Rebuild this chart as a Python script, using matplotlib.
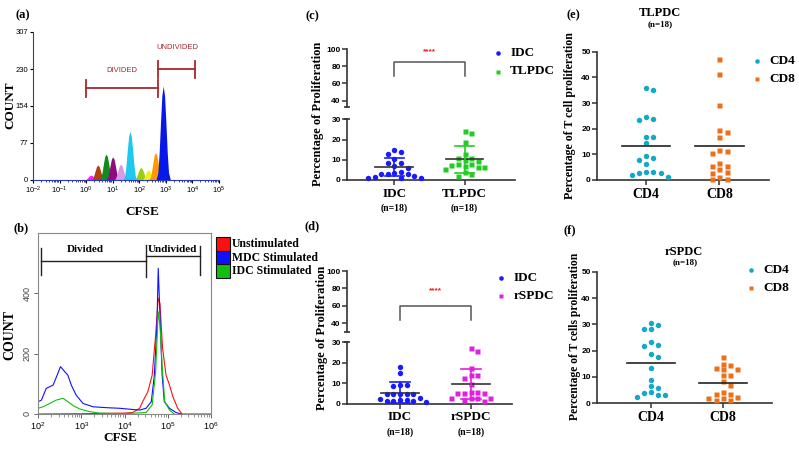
import numpy as np
import matplotlib
matplotlib.use('Agg')
import matplotlib.pyplot as plt
from matplotlib.patches import Rectangle

SERIF = 'Liberation Serif'
SANS = 'Liberation Sans'
plt.rcParams['font.family'] = SANS
plt.rcParams['mathtext.fontset'] = 'custom'
plt.rcParams['mathtext.rm'] = SANS
plt.rcParams['mathtext.it'] = SANS
plt.rcParams['mathtext.bf'] = SANS + ':bold'

# ---- (a) CFSE generations (log10 centre, peak count) ----
a_centers = [0.18, 0.44, 0.75, 1.0, 1.3, 1.65, 2.06, 2.34, 2.61, 2.9]
a_heights = [10, 31, 54, 48, 33, 101, 26, 21, 57, 195]
a_colors = ['#ff20ff', '#b0400c', '#108c1c', '#900a80', '#d89ae8',
            '#20c8f0', '#98d010', '#f0f020', '#ff9800', '#0818e8']
a_prof_off = np.array([-0.27, -0.2, -0.15, -0.1, -0.05, 0, 0.05, 0.1, 0.15, 0.2, 0.27])
a_prof_frac = np.array([0, 0.08, 0.3, 0.62, 0.9, 1, 0.9, 0.62, 0.3, 0.08, 0])
a_div_gate = [1.0, 10**2.69]
a_undiv_gate = [10**2.69, 10**4.11]

# ---- (b) histograms (log10 CFSE, count) ----
b_red_logx = [2.0, 3.0, 4.0, 4.19, 4.35, 4.42, 4.54, 4.64, 4.72, 4.78, 4.82, 4.88,
              4.96, 5.04, 5.12, 5.23, 5.33, 6.0]
b_red_cnt = [0, 1, 3, 5, 19, 41, 74, 129, 262, 383, 367, 218, 129, 96, 57, 19, 0, 0]
b_blue_logx = [2.0, 2.003, 2.08, 2.19, 2.35, 2.46, 2.52, 2.62, 2.69, 2.77, 2.88, 3.04,
               3.27, 3.58, 3.88, 4.19, 4.35, 4.5, 4.62, 4.69, 4.75, 4.78, 4.82, 4.87,
               4.92, 5.04, 5.19, 5.31]
b_blue_cnt = [295, 41, 46, 85, 96, 135, 157, 140, 129, 96, 63, 35, 24, 21, 19, 15, 13,
              19, 41, 129, 295, 483, 328, 129, 41, 19, 5, 0]
b_green_logx = [2.0, 2.003, 2.12, 2.27, 2.42, 2.58, 2.69, 2.81, 2.96, 3.19, 3.42, 4.0,
                4.5, 4.64, 4.72, 4.78, 4.82, 4.87, 4.93, 5.04, 5.15]
b_green_cnt = [173, 19, 24, 35, 46, 52, 41, 28, 17, 8, 3, 1, 5, 30, 140, 339, 295, 162,
               41, 13, 0]
b_labels = ['Unstimulated', 'MDC Stimulated', 'IDC Stimulated']
b_colors = ['#ff1010', '#1010ff', '#10c010']

# ---- (c)-(f) dot plots ----
c_cats = ['IDC', 'TLPDC']
c_idc = [15.0, 13.8, 13.0, 10.3, 8.5, 8.2, 6.8, 5.8, 4.2, 3.0, 3.0, 3.2, 3.3, 1.8, 1.2, 1.2, 1.2, 1.5]
c_tlpdc = [24.1, 23.0, 19.0, 12.8, 10.8, 10.8, 9.8, 9.5, 8.0, 6.6, 7.4, 6.6, 7.0, 7.9, 4.1, 2.1, 3.0, 5.5]
c_mean = [6.4, 10.2]
c_sd = [4.5, 6.6]

d_cats = ['IDC', 'rSPDC']
d_idc = [18.0, 15.0, 8.8, 9.2, 9.2, 4.8, 4.8, 4.8, 4.8, 4.8, 1.5, 2.0, 2.2, 1.3, 1.8, 0.8, 1.3, 3.0]
d_rspdc = [27.3, 25.8, 17.5, 14.0, 14.0, 12.7, 9.5, 5.3, 5.3, 5.3, 5.6, 5.6, 2.8, 2.8, 2.8, 2.8, 1.5, 1.8]
d_mean = [5.4, 9.6]
d_sd = [5.0, 7.5]

e_cats = ['CD4', 'CD8']
e_cd4 = [35.0, 36.0, 23.6, 23.2, 24.4, 16.6, 16.8, 14.4, 9.5, 8.6, 7.7, 6.1, 2.1, 3.2, 2.6, 2.9, 3.2, 1.3]
e_cd8 = [47.0, 41.3, 29.1, 19.5, 18.8, 16.6, 11.3, 10.4, 11.8, 6.5, 5.6, 5.6, 4.2, 3.1, 2.6, 1.3, 0.3, 0.5]
e_mean = [13.2, 13.2]

f_cd4 = [30.6, 28.4, 28.4, 29.8, 21.9, 22.3, 23.4, 18.8, 17.5, 13.4, 9.0, 5.9, 6.5, 4.1, 4.4, 2.4, 3.0, 3.1]
f_cd8 = [17.5, 13.5, 13.1, 15.0, 14.4, 12.9, 10.9, 10.6, 8.4, 7.1, 4.4, 3.4, 3.5, 2.1, 2.5, 1.9, 1.1, 1.1]
f_mean = [15.3, 7.9]

BLUE, GREEN, MAG = '#1a1aff', '#22cc22', '#e020e0'
CYAN, ORANGE = '#14a8c8', '#ec7018'
AX = '#333333'

W, H = 799, 450
fig = plt.figure(figsize=(W / 100, H / 100), dpi=100)


def box(l, t, r, b):
    return fig.add_axes([l / W, 1 - b / H, (r - l) / W, (b - t) / H])


def swarm_offsets(vals, ypx, dot=5.5, step=6.6):
    # place points row by row so they don't overlap (like a scatter dot plot)
    vals = np.asarray(vals, float)
    offs = np.zeros(len(vals))
    placed = []
    for i in np.argsort(vals)[::-1]:
        y = vals[i] * ypx
        k = 0
        while True:
            cand = ((k + 1) // 2) * (1 if k % 2 else -1) * step
            if all(np.hypot(cand - px, y - py) >= dot for px, py in placed):
                break
            k += 1
        placed.append((cand, y))
        offs[i] = cand
    return offs


def style_dot_axes(ax, xlim, lsize=6):
    ax.set_xlim(*xlim)
    for s in ['top', 'right']:
        ax.spines[s].set_visible(False)
    for s in ['left', 'bottom']:
        ax.spines[s].set_color(AX)
        ax.spines[s].set_linewidth(1.2)
    ax.tick_params(direction='out', length=3.5, width=1.1, color=AX, labelsize=lsize, pad=0.8)
    plt.setp(ax.get_yticklabels(), fontweight='bold')


def draw_points(ax, groups, colors, markers, box_px, xlim, ylim, step):
    l, t, r, b = box_px
    ypx = (b - t) / (ylim[1] - ylim[0])
    xpx = (r - l) / (xlim[1] - xlim[0])
    for i, (vals, col, mk) in enumerate(zip(groups, colors, markers)):
        offs = swarm_offsets(vals, ypx, step=step) / xpx
        ax.plot(i + offs, vals, mk, color=col, ms=3.9 if mk == 'o' else 3.6,
                mec='none', ls='none', clip_on=False, zorder=3)


# ================= (a) =================
axa = box(33, 32, 219, 180)
axa.set_xscale('log')
axa.set_xlim(1e-2, 1e5)
axa.set_ylim(0, 307)
for c, h, col in zip(a_centers, a_heights, a_colors):
    axa.fill_between(10 ** (c + a_prof_off), h * a_prof_frac, color=col, lw=0)
gate_col = '#a8282c'
axa.plot(a_div_gate, [190, 190], color=gate_col, lw=1.3)
for x in a_div_gate:
    axa.plot([x, x], [172, 207], color=gate_col, lw=1.3)
axa.plot(a_undiv_gate, [230, 230], color=gate_col, lw=1.3)
for x in a_undiv_gate:
    axa.plot([x, x], [212, 247], color=gate_col, lw=1.3)
axa.text(10 ** 1.34, 228, 'DIVIDED', color=gate_col, fontsize=5.5, ha='center', va='center')
axa.text(10 ** 3.44, 274, 'UNDIVIDED', color=gate_col, fontsize=5.5, ha='center', va='center')
axa.set_yticks([0, 77, 154, 230, 307])
for s in ['top', 'right']:
    axa.spines[s].set_visible(False)
axa.spines['bottom'].set_color('#2838c8')
axa.spines['left'].set_color('#444444')
axa.tick_params(labelsize=5.5, length=2.5, width=0.8, pad=1)
axa.tick_params(which='minor', length=1.5, width=0.5)

# ================= (b) =================
axb = box(38, 233, 211, 414)
axb.set_xscale('log')
axb.set_xlim(1e2, 1e6)
axb.set_ylim(0, 600)
for lx, cnt, col in [(b_red_logx, b_red_cnt, b_colors[0]),
                     (b_blue_logx, b_blue_cnt, b_colors[1]),
                     (b_green_logx, b_green_cnt, b_colors[2])]:
    axb.plot(10 ** np.array(lx), cnt, color=col, lw=0.8)
div_x = [10 ** 2.08, 10 ** 4.5]
undiv_x = [10 ** 4.5, 10 ** 5.75]
axb.plot(div_x, [508, 508], color='#222222', lw=1)
axb.plot([div_x[0]] * 2, [461, 549], color='#222222', lw=1)
axb.plot(undiv_x, [525, 525], color='#222222', lw=1)
axb.plot([undiv_x[0]] * 2, [455, 560], color='#222222', lw=1)
axb.plot([undiv_x[1]] * 2, [461, 558], color='#222222', lw=1)
axb.text(10 ** 3.1, 530, 'Divided', family=SERIF, fontweight='bold', fontsize=8,
         ha='center', va='bottom')
axb.text(10 ** 5.1, 532, 'Undivided', family=SERIF, fontweight='bold', fontsize=8,
         ha='center', va='bottom')
axb.set_yticks([0, 200, 400])
for s in axb.spines.values():
    s.set_color('#888888')
axb.tick_params(labelsize=6.5, length=3, width=0.7, color='#666666', pad=1.5)
axb.tick_params(axis='y', labelrotation=90, labelcolor='#444444')
plt.setp(axb.get_yticklabels(), va='center')
axb.tick_params(which='minor', length=1.8, width=0.5, color='#666666')

# ================= (c), (d) broken axis dot plots =================
def broken_panel(low_px, up_px, up_ylim, xlim, cats, groups, colors, markers,
                 means, sds, star_y, br_top, br_leg):
    lo = box(*low_px)
    up = box(*up_px)
    lo.set_ylim(0, 30)
    lo.set_yticks([0, 10, 20, 30])
    up.set_ylim(*up_ylim)
    up.set_yticks([40, 60, 80, 100])
    style_dot_axes(lo, xlim)
    style_dot_axes(up, xlim)
    up.spines['bottom'].set_visible(False)
    up.set_xticks([])
    up.patch.set_visible(False)
    lo.patch.set_visible(False)
    # break caps
    lo.plot([xlim[0]], [30], '_', color=AX, ms=5, mew=1.2, clip_on=False)
    up.plot([xlim[0]], [up_ylim[0]], '_', color=AX, ms=5, mew=1.2, clip_on=False)
    draw_points(lo, groups, colors, markers, low_px, xlim, (0, 30), 6.6)
    for i, (m, sd, col) in enumerate(zip(means, sds, colors)):
        lo.plot([i - 0.27, i + 0.27], [m, m], color='#333333', lw=1.2, zorder=4)
        lo.plot([i, i], [max(m - sd, 0), m + sd], color=col, lw=1.2, zorder=4, clip_on=False)
        for y in [m - sd, m + sd]:
            if y > 0:
                lo.plot([i - 0.14, i + 0.14], [y, y], color=col, lw=1.2, zorder=4)
    lo.set_xticks([0, 1], cats, family=SERIF, fontweight='bold', fontsize=9.5)
    lo.tick_params(axis='x', pad=2)
    for i in range(2):
        lo.annotate('(n=18)', xy=(i, 0), xycoords=('data', 'axes fraction'),
                    xytext=(0, -28), textcoords='offset pixels', ha='center', va='center',
                    family=SERIF, fontweight='bold', fontsize=7)
    up.plot([0, 0, 1, 1], [br_leg, br_top, br_top, br_leg], color='#555555', lw=1.1)
    up.text(0.5, star_y, '****', color='#ee2020', fontsize=6, ha='center', va='center',
            fontweight='bold', clip_on=False)


broken_panel((346.7, 119.3, 515, 180), (346.7, 49, 515, 106.7), (33, 100), (-0.68, 1.72),
             c_cats, [c_idc, c_tlpdc], [BLUE, GREEN], ['o', 's'], c_mean, c_sd,
             97, 85.3, 68.6)
broken_panel((346.7, 342.3, 511.7, 403.7), (346.7, 271, 511.7, 331.7), (30.4, 100),
             (-0.754, 1.58), d_cats, [d_idc, d_rspdc], [BLUE, MAG], ['o', 's'],
             d_mean, d_sd, 77.4, 59.9, 43.8)

# ================= (e), (f) =================
def cd_panel(px, xlim, groups, means):
    ax = box(*px)
    ax.set_ylim(0, 50)
    ax.set_yticks([0, 10, 20, 30, 40, 50])
    style_dot_axes(ax, xlim, 6)
    ax.patch.set_visible(False)
    draw_points(ax, groups, [CYAN, ORANGE], ['o', 's'], px, xlim, (0, 50), 7.2)
    for i, m in enumerate(means):
        ax.plot([i - 0.33, i + 0.33], [m, m], color='#222222', lw=1.2, zorder=4)
    ax.set_xticks([0, 1], e_cats, family=SERIF, fontweight='bold', fontsize=10)
    ax.tick_params(axis='x', pad=2)
    return ax


cd_panel((596.7, 51.7, 769.3, 180), (-0.675, 1.68), [e_cd4, e_cd8], e_mean)
cd_panel((596.7, 271.7, 771.7, 403.3), (-0.757, 1.68), [f_cd4, f_cd8], f_mean)

# ================= overlay texts / legends =================
ov = fig.add_axes([0, 0, 1, 1])
ov.set_xlim(0, W)
ov.set_ylim(H, 0)
ov.axis('off')
ov.patch.set_visible(False)


def t(x, y, s, size=9, rot=0, fam=SERIF, w='bold', ha='center', **kw):
    ov.text(x, y, s, fontsize=size, rotation=rot, family=fam, fontweight=w,
            ha=ha, va='center', **kw)


for lab, x, y in [('(a)', 23, 15), ('(b)', 21, 228), ('(c)', 312, 16), ('(d)', 312, 226),
                  ('(e)', 573, 15), ('(f)', 570, 230)]:
    t(x, y, lab, 9)

t(10, 105, 'COUNT', 9.5, 90)
t(142, 212, 'CFSE', 9.5)
t(10, 335, 'COUNT', 10, 90)
t(120, 438, 'CFSE', 9.5)
t(318, 114, 'Percentage of Proliferation', 9, 90)
t(322, 338, 'Percentage of Proliferation', 9, 90)
t(570.5, 116, 'Percentage of T cell proliferation', 8.6, 90)
t(575, 336, 'Percentage of T cells proliferation', 8.4, 90)

t(660, 13, 'TLPDC', 9)
t(660, 24, '(n=18)', 6.5)
t(684, 251.7, 'rSPDC', 9)
t(685, 262.3, '(n=18)', 6.5)

# legend (b)
for i, (lab, col) in enumerate(zip(b_labels, b_colors)):
    ov.add_patch(Rectangle((216, 237 + 13.7 * i), 14, 13.7, facecolor=col,
                           edgecolor='#111111', lw=0.8))
    t(231.5, 244 + 13.7 * i, lab, 8.5, ha='left')

# legends (c)-(f)
for (x, y0, labs, cols) in [(497.7, 53.3, c_cats, [BLUE, GREEN]),
                            (501, 277.7, d_cats, [BLUE, MAG]),
                            (757.3, 61, e_cats, [CYAN, ORANGE]),
                            (751, 270, e_cats, [CYAN, ORANGE])]:
    for i, (lab, col) in enumerate(zip(labs, cols)):
        y = y0 + i * 18.2
        ov.plot([x], [y], 'o' if i == 0 else 's', color=col, ms=3.3 if i == 0 else 3.2,
                mec='none')
        t(x + 12.5, y, lab, 9.5, ha='left')

fig.savefig('out.png', dpi=100)
